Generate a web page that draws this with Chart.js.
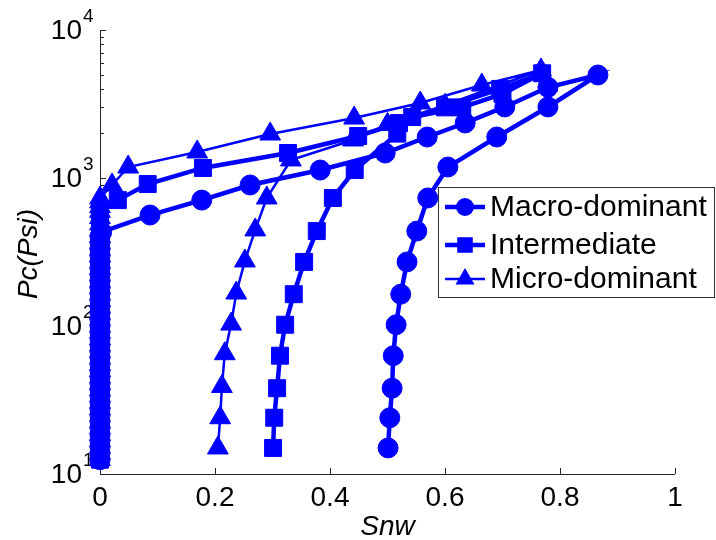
<!DOCTYPE html>
<html>
<head>
    <title>Pc vs Snw</title>
    <script src="https://cdn.jsdelivr.net/npm/chart.js"></script>
    <style>body { margin: 0; background: #fff; }</style>
</head>
<body>
<canvas id="myChart" width="716" height="540"></canvas>
<script>
    // series names (legend order)
    var seriesNames = ['Macro-dominant', 'Intermediate', 'Micro-dominant'];

    // Macro-dominant: column at Snw=0, drainage branch, then return branch
    var macroSnw = [0, 0, 0, 0, 0, 0, 0, 0, 0, 0, 0, 0, 0, 0, 0, 0, 0, 0, 0, 0, 0, 0, 0, 0, 0, 0, 0, 0, 0, 0, 0, 0, 0, 0, 0, 0,
        0.003, 0.087, 0.177, 0.261, 0.383, 0.496, 0.569, 0.635, 0.704, 0.779, 0.866,
        0.779, 0.69, 0.605, 0.570, 0.551, 0.534, 0.523, 0.515, 0.510, 0.508, 0.504, 0.501];
    var macroPc = [12.5, 13.8, 15.2, 16.8, 18.5, 20.5, 22.6, 25, 27.6, 30.5, 33.7, 37.2, 41, 45.3, 50, 55, 61, 67.5, 74.5, 82, 91, 100, 111, 122, 135, 149, 165, 182, 201, 222, 245, 271, 299, 330, 365, 403,
        432, 562, 709, 897, 1132, 1475, 1892, 2353, 3020, 4100, 4966,
        3020, 1892, 1186, 733, 438, 271, 164, 102, 63, 38, 24, 15];

    // Intermediate
    var interSnw = [0, 0, 0, 0, 0, 0, 0, 0, 0, 0, 0, 0, 0, 0, 0, 0, 0, 0, 0, 0, 0, 0, 0, 0, 0, 0, 0, 0, 0, 0, 0, 0, 0, 0, 0, 0, 0, 0, 0, 0,
        0.031, 0.083, 0.179, 0.327, 0.449, 0.52, 0.60, 0.696, 0.769,
        0.70, 0.63, 0.543, 0.517, 0.443, 0.405, 0.377, 0.355, 0.337, 0.322, 0.313, 0.308, 0.303, 0.301];
    var interPc = [12.5, 13.8, 15.2, 16.8, 18.5, 20.5, 22.6, 25, 27.6, 30.5, 33.7, 37.2, 41, 45.3, 50, 55, 61, 67.5, 74.5, 82, 91, 100, 111, 122, 135, 149, 165, 182, 201, 222, 245, 271, 299, 330, 365, 403, 445, 490, 540, 595,
        709, 910, 1169, 1475, 1923, 2350, 3000, 4000, 5100,
        3700, 3000, 2580, 1995, 1132, 733, 438, 271, 164, 102, 63, 38, 24, 15];

    // Micro-dominant
    var microSnw = [0, 0, 0, 0, 0, 0, 0, 0, 0, 0, 0, 0, 0, 0, 0, 0, 0, 0, 0, 0, 0, 0, 0, 0, 0, 0, 0, 0, 0, 0, 0, 0, 0, 0, 0, 0, 0, 0, 0, 0, 0, 0, 0,
        0.021, 0.049, 0.169, 0.296, 0.442, 0.557, 0.664, 0.767,
        0.60, 0.50, 0.44, 0.332, 0.29, 0.27, 0.252, 0.237, 0.228, 0.217, 0.212, 0.209, 0.205];
    var microPc = [12.5, 13.8, 15.2, 16.8, 18.5, 20.5, 22.6, 25, 27.6, 30.5, 33.7, 37.2, 41, 45.3, 50, 55, 61, 67.5, 74.5, 82, 91, 100, 111, 122, 135, 149, 165, 182, 201, 222, 245, 271, 299, 330, 365, 403, 445, 490, 540, 595, 640, 690, 733,
        897, 1186, 1500, 1982, 2541, 3213, 4246, 5370,
        3100, 2300, 1807, 1324, 733, 446, 275, 167, 103, 65, 39, 24, 15];

    // axis ticks
    var xTicks = [0, 0.2, 0.4, 0.6, 0.8, 1];
    var xTickLabels = ['0', '0.2', '0.4', '0.6', '0.8', '1'];
    var yTicks = [10, 100, 1000, 10000];
    var yTickExps = ['1', '2', '3', '4'];
    var yMinorTicks = [20, 30, 40, 50, 60, 70, 80, 90, 200, 300, 400, 500, 600, 700, 800, 900,
        2000, 3000, 4000, 5000, 6000, 7000, 8000, 9000];

    var blue = '#0000ff';
    var styles = [
        {pointStyle: 'circle', radius: 10, lineWidth: 4.5},
        {pointStyle: 'rect', radius: 12, lineWidth: 4.5},
        {pointStyle: 'triangle', radius: 12, lineWidth: 2.5}
    ];

    function pairs(xs, ys) {
        return xs.map(function (x, i) { return {x: x, y: ys[i]}; });
    }
    var allData = [pairs(macroSnw, macroPc), pairs(interSnw, interPc), pairs(microSnw, microPc)];

    function marker(ctx, style, r, x, y) {
        ctx.beginPath();
        if (style === 'circle') {
            ctx.arc(x, y, r, 0, Math.PI * 2);
        } else if (style === 'rect') {
            var s = r * Math.SQRT1_2;
            ctx.rect(x - s, y - s, 2 * s, 2 * s);
        } else {
            ctx.moveTo(x, y - r);
            ctx.lineTo(x + r * Math.sin(2 * Math.PI / 3), y + r * 0.5);
            ctx.lineTo(x - r * Math.sin(2 * Math.PI / 3), y + r * 0.5);
            ctx.closePath();
        }
        ctx.fill();
    }

    var axisPlugin = {
        id: 'axisPlugin',
        beforeDatasetsDraw: function (chart) {
            var ctx = chart.ctx, xs = chart.scales.x, ys = chart.scales.y, a = chart.chartArea;
            ctx.save();
            ctx.strokeStyle = '#262626';
            ctx.lineWidth = 1;
            ctx.beginPath();
            ctx.moveTo(a.left + 0.5, a.top);
            ctx.lineTo(a.left + 0.5, a.bottom + 0.5);
            ctx.lineTo(a.right, a.bottom + 0.5);
            xTicks.forEach(function (v) {
                var px = Math.round(xs.getPixelForValue(v)) + 0.5;
                ctx.moveTo(px, a.bottom);
                ctx.lineTo(px, a.bottom - 6);
            });
            yTicks.forEach(function (v) {
                var py = Math.round(ys.getPixelForValue(v)) + 0.5;
                ctx.moveTo(a.left, py);
                ctx.lineTo(a.left + 6, py);
            });
            yMinorTicks.forEach(function (v) {
                var py = Math.round(ys.getPixelForValue(v)) + 0.5;
                ctx.moveTo(a.left, py);
                ctx.lineTo(a.left + 4, py);
            });
            ctx.stroke();

            ctx.fillStyle = '#000';
            ctx.font = '28px "Liberation Sans", Arial, sans-serif';
            ctx.textAlign = 'center';
            ctx.textBaseline = 'middle';
            xTicks.forEach(function (v, i) {
                ctx.fillText(xTickLabels[i], xs.getPixelForValue(v), a.bottom + 24);
            });
            yTicks.forEach(function (v, i) {
                var py = ys.getPixelForValue(v);
                ctx.font = '28px "Liberation Sans", Arial, sans-serif';
                ctx.textAlign = 'right';
                ctx.fillText('10', a.left - 18, py + 1);
                ctx.font = '19px "Liberation Sans", Arial, sans-serif';
                ctx.textAlign = 'left';
                ctx.fillText(yTickExps[i], a.left - 17, py - 13);
            });

            ctx.font = 'italic 28px "Liberation Sans", Arial, sans-serif';
            ctx.textAlign = 'center';
            ctx.fillText('Snw', (a.left + a.right) / 2, 527);
            ctx.translate(29, 254);
            ctx.rotate(-Math.PI / 2);
            ctx.fillText('Pc(Psi)', 0, 0);
            ctx.restore();
        },
        afterDraw: function (chart) {
            var ctx = chart.ctx;
            ctx.save();
            ctx.fillStyle = '#fff';
            ctx.strokeStyle = '#333';
            ctx.lineWidth = 1;
            ctx.fillRect(438, 187, 276, 110);
            ctx.strokeRect(438.5, 187.5, 276, 110);
            var rows = [207, 245, 279];
            ctx.font = '30px "Liberation Sans", Arial, sans-serif';
            ctx.textAlign = 'left';
            ctx.textBaseline = 'middle';
            seriesNames.forEach(function (name, i) {
                var y = rows[i];
                ctx.strokeStyle = blue;
                ctx.fillStyle = blue;
                ctx.lineWidth = styles[i].lineWidth;
                ctx.beginPath();
                ctx.moveTo(445, y);
                ctx.lineTo(485, y);
                ctx.stroke();
                marker(ctx, styles[i].pointStyle, styles[i].pointStyle === 'circle' ? 9 : 11, 465, y);
                ctx.fillStyle = '#000';
                ctx.fillText(name, 490, y + 1);
            });
            ctx.restore();
        }
    };

    var ctx = document.getElementById('myChart').getContext('2d');
    var chart = new Chart(ctx, {
        type: 'scatter',
        data: {
            datasets: allData.map(function (d, i) {
                return {
                    label: seriesNames[i],
                    data: d,
                    showLine: true,
                    borderColor: blue,
                    backgroundColor: blue,
                    borderWidth: styles[i].lineWidth,
                    pointStyle: styles[i].pointStyle,
                    pointRadius: styles[i].radius,
                    pointBorderWidth: 1,
                    pointBorderColor: blue,
                    pointBackgroundColor: blue,
                    clip: false
                };
            })
        },
        options: {
            responsive: false,
            animation: false,
            events: [],
            layout: {padding: {left: 100, top: 30, right: 41, bottom: 66}},
            plugins: {legend: {display: false}, tooltip: {enabled: false}},
            scales: {
                x: {type: 'linear', min: 0, max: 1, display: false},
                y: {type: 'logarithmic', min: 10, max: 10000, display: false}
            }
        },
        plugins: [axisPlugin]
    });
</script>
</body>
</html>
